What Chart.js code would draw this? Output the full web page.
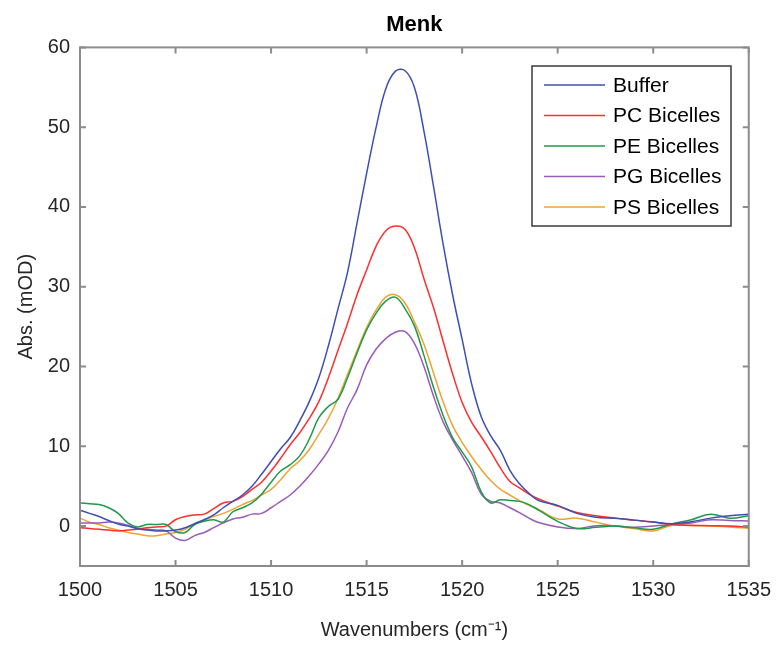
<!DOCTYPE html>
<html>
<head>
<meta charset="utf-8">
<script src="https://cdn.jsdelivr.net/npm/chart.js@4.4.1/dist/chart.umd.min.js"></script>
<style>
  html, body { margin: 0; padding: 0; background: #fff; }
  #wrap { width: 783px; height: 648px; }
</style>
</head>
<body>
<div id="wrap"><canvas id="chart" width="783" height="648"></canvas></div>
<script>
// Wellenzahlen (cm^-1), gemeinsam fuer alle Kurven
const wavenumbers = [
  1500, 1500.5, 1501, 1501.5, 1502, 1502.5, 1503, 1503.5, 1504, 1504.5,
  1505, 1505.5, 1506, 1506.5, 1507, 1507.5, 1508, 1508.5, 1509, 1509.5,
  1510, 1510.5, 1511, 1511.5, 1512, 1512.5, 1513, 1513.5, 1514, 1514.5,
  1515, 1515.5, 1516, 1516.5, 1517, 1517.5, 1518, 1518.5, 1519, 1519.5,
  1520, 1520.5, 1521, 1521.5, 1522, 1522.5, 1523, 1523.5, 1524,
  1525, 1526, 1527, 1528, 1529, 1530, 1531, 1532, 1533, 1534, 1535
];

const buffer = [
  2.0, 1.6, 1.2, 0.7, 0.25, 0.0, -0.3, -0.5, -0.6, -0.6,
  -0.5, -0.2, 0.3, 0.8, 1.4, 2.3, 3.1, 3.9, 5.0, 6.5,
  8.1, 9.7, 11.1, 13.2, 15.6, 18.6, 22.6, 27.2, 31.8, 38.0,
  44.2, 50.0, 54.8, 57.0, 57.1, 55.0, 49.5, 42.6, 35.4, 29.0,
  23.4, 17.8, 13.7, 11.3, 9.5, 7.0, 5.3, 4.1, 3.2,
  2.6, 1.6, 1.1, 1.0, 0.75, 0.5, 0.3, 0.55, 1.0, 1.3, 1.5
];

const pcBicelles = [
  -0.2, -0.3, -0.4, -0.5, -0.6, -0.5, -0.4, -0.2, -0.1, 0.0,
  0.8, 1.2, 1.4, 1.5, 2.2, 2.9, 3.1, 3.7, 4.6, 5.5,
  6.9, 8.5, 10.2, 11.7, 13.5, 15.6, 18.6, 22.0, 25.4, 29.0,
  32.1, 35.1, 37.0, 37.6, 37.2, 34.9, 31.0, 27.4, 23.2, 19.1,
  15.5, 13.0, 11.2, 9.3, 7.3, 5.6, 4.8, 4.0, 3.4,
  2.5, 1.7, 1.3, 1.0, 0.75, 0.5, 0.2, 0.1, 0.05, 0.0, -0.15
];

const peBicelles = [
  2.9, 2.8, 2.7, 2.3, 1.6, 0.4, -0.1, 0.2, 0.2, 0.2,
  -0.7, -0.8, 0.2, 0.6, 0.8, 0.5, 1.8, 2.3, 2.9, 4.0,
  5.5, 6.9, 7.7, 8.8, 10.9, 13.6, 15.0, 15.9, 18.6, 21.7,
  24.6, 26.7, 28.2, 28.7, 27.3, 25.1, 21.4, 17.4, 13.9, 11.1,
  9.3, 7.4, 4.3, 2.9, 3.3, 3.2, 3.1, 2.7, 2.0,
  0.6, -0.3, -0.15, 0.0, -0.2, -0.4, 0.3, 0.8, 1.5, 1.0, 1.3
];

const pgBicelles = [
  0.4, 0.4, 0.4, 0.5, 0.4, 0.1, -0.3, -0.4, -0.5, -0.6,
  -1.5, -1.8, -1.2, -0.8, -0.2, 0.4, 0.9, 1.1, 1.5, 1.6,
  2.3, 3.1, 3.9, 5.0, 6.3, 7.8, 9.5, 11.8, 14.8, 17.1,
  20.2, 22.2, 23.5, 24.3, 24.4, 22.9, 20.0, 16.3, 13.1, 10.8,
  8.8, 6.7, 4.0, 3.1, 2.9, 2.3, 1.7, 1.0, 0.45,
  -0.1, -0.3, 0.05, 0.0, -0.15, 0.0, 0.2, 0.4, 0.8, 0.7, 0.65
];

const psBicelles = [
  1.0, 0.5, 0.2, -0.2, -0.5, -0.8, -1.0, -1.2, -1.2, -1.0,
  -0.8, -0.4, 0.3, 0.8, 1.2, 1.6, 2.1, 2.7, 3.2, 3.9,
  4.6, 5.8, 7.2, 8.2, 9.6, 11.5, 13.5, 16.0, 19.0, 22.0,
  24.9, 27.1, 28.7, 29.0, 28.0, 25.6, 22.8, 19.2, 15.6, 12.6,
  10.5, 8.7, 7.1, 5.7, 4.6, 3.9, 3.2, 2.6, 2.1,
  0.9, 1.0, 0.5, 0.0, -0.3, -0.6, 0.1, 0.05, 0.0, -0.1, -0.3
];

const seriesNames = ["Buffer", "PC Bicelles", "PE Bicelles", "PG Bicelles", "PS Bicelles"];
const seriesColors = ["#3e4fb4", "#ff2e2e", "#1f9a4c", "#9a5ab8", "#eea333"];
const seriesValues = [buffer, pcBicelles, peBicelles, pgBicelles, psBicelles];

const xTicks = [1500, 1505, 1510, 1515, 1520, 1525, 1530, 1535];
const yTicks = [0, 10, 20, 30, 40, 50, 60];

const FONT = "'Liberation Sans', Arial, Helvetica, sans-serif";
const AXIS_GRAY = "#8c8c8c";

// Rahmen + Ticks nach innen (MATLAB-Stil)
const boxPlugin = {
  id: "matlabBox",
  afterDatasetsDraw(chart) {
    const { ctx, chartArea: a, scales } = chart;
    ctx.save();
    ctx.strokeStyle = AXIS_GRAY;
    ctx.lineWidth = 2;
    ctx.strokeRect(a.left, a.top, a.right - a.left, a.bottom - a.top);
    const len = 6;
    ctx.beginPath();
    xTicks.forEach((v) => {
      const px = scales.x.getPixelForValue(v);
      ctx.moveTo(px, a.bottom); ctx.lineTo(px, a.bottom - len);
      ctx.moveTo(px, a.top); ctx.lineTo(px, a.top + len);
    });
    yTicks.forEach((v) => {
      const py = scales.y.getPixelForValue(v);
      ctx.moveTo(a.left, py); ctx.lineTo(a.left + len, py);
      ctx.moveTo(a.right, py); ctx.lineTo(a.right - len, py);
    });
    ctx.stroke();
    ctx.restore();
  }
};

// Legende oben rechts im Plot
const legendPlugin = {
  id: "boxLegend",
  afterDraw(chart) {
    const { ctx } = chart;
    const x0 = 532, y0 = 66, w = 199, h = 160;
    ctx.save();
    ctx.fillStyle = "#fff";
    ctx.fillRect(x0, y0, w, h);
    ctx.strokeStyle = "#3a3a3a";
    ctx.lineWidth = 1.5;
    ctx.strokeRect(x0, y0, w, h);
    ctx.font = "21px " + FONT;
    ctx.textBaseline = "middle";
    ctx.fillStyle = "#000";
    seriesNames.forEach((name, i) => {
      const y = y0 + 19 + i * 30.5;
      ctx.strokeStyle = seriesColors[i];
      ctx.lineWidth = 1.5;
      ctx.beginPath();
      ctx.moveTo(x0 + 12, y);
      ctx.lineTo(x0 + 73, y);
      ctx.stroke();
      ctx.fillText(name, x0 + 81, y + 1);
    });
    ctx.restore();
  }
};

const datasets = seriesNames.map((name, i) => ({
  label: name,
  data: wavenumbers.map((w, j) => ({ x: w, y: seriesValues[i][j] })),
  borderColor: seriesColors[i],
  borderWidth: 1.5,
  pointRadius: 0,
  fill: false,
  tension: 0.4
}));

new Chart(document.getElementById("chart").getContext("2d"), {
  type: "line",
  data: { datasets },
  options: {
    responsive: false,
    devicePixelRatio: 1,
    animation: false,
    layout: { padding: { left: 10, right: 28, top: 0, bottom: 2 } },
    plugins: {
      legend: { display: false },
      tooltip: { enabled: false },
      title: {
        display: true,
        text: "Menk",
        fullSize: false,
        color: "#000",
        font: { family: FONT, size: 22, weight: "bold" },
        padding: { top: 12, bottom: 9 }
      }
    },
    scales: {
      x: {
        type: "linear",
        min: 1500,
        max: 1535,
        afterBuildTicks: (s) => { s.ticks = xTicks.map((v) => ({ value: v })); },
        afterFit: (s) => { s.height = 80; },
        grid: { display: false, drawTicks: false },
        border: { display: false },
        ticks: {
          color: "#262626",
          padding: 12,
          maxRotation: 0,
          font: { family: FONT, size: 20 },
          callback: (v) => String(v)
        },
        title: {
          display: true,
          text: "Wavenumbers (cm\u207B\u00B9)",
          color: "#262626",
          font: { family: FONT, size: 20 }
        }
      },
      y: {
        type: "linear",
        min: -5,
        max: 60,
        afterBuildTicks: (s) => { s.ticks = yTicks.map((v) => ({ value: v })); },
        afterFit: (s) => { s.width = 70; },
        grid: { display: false, drawTicks: false },
        border: { display: false },
        ticks: {
          color: "#262626",
          padding: 10,
          font: { family: FONT, size: 20 },
          callback: (v) => String(v)
        },
        title: {
          display: true,
          text: "Abs. (mOD)",
          color: "#262626",
          font: { family: FONT, size: 20 }
        }
      }
    }
  },
  plugins: [boxPlugin, legendPlugin]
});
</script>
</body>
</html>
